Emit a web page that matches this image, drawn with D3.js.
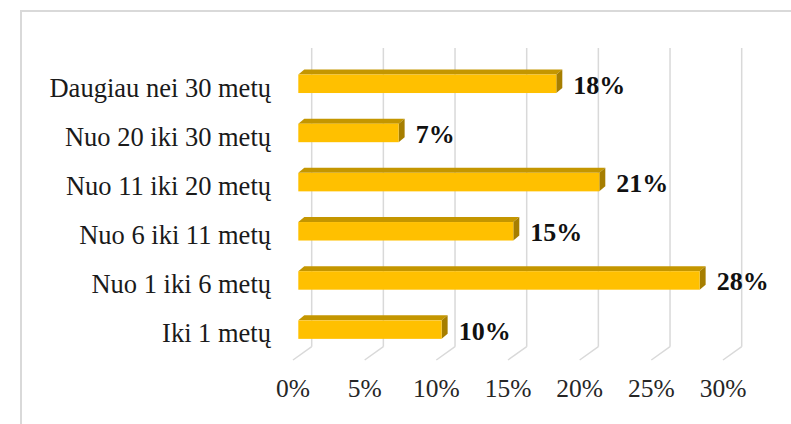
<!DOCTYPE html>
<html>
<head>
<meta charset="utf-8">
<script src="https://cdn.jsdelivr.net/npm/d3@7"></script>
<style>
  html, body { margin: 0; padding: 0; background: #fff; }
  svg { display: block; }
  text { font-family: "Liberation Serif", "Times New Roman", serif; }
</style>
</head>
<body>
<svg id="chart" width="791" height="424"></svg>
<script>
// ---- data ----
const categories = ["Daugiau nei 30 metų", "Nuo 20 iki 30 metų", "Nuo 11 iki 20 metų", "Nuo 6 iki 11 metų", "Nuo 1 iki 6 metų", "Iki 1 metų"];
const values = [18, 7, 21, 15, 28, 10];
const valueLabels = ["18%", "7%", "21%", "15%", "28%", "10%"];
const tickValues = [0, 5, 10, 15, 20, 25, 30];
const tickLabels = ["0%", "5%", "10%", "15%", "20%", "25%", "30%"];

// ---- layout ----
const svg = d3.select("#chart");
const floorY = 360, wallTop = 48;
const depth = { dx: 18.7, dy: -13.3 };       // floor depth offset
const frontOff = { dx: 5.3, dy: -3.8 };      // bar front face offset
const barDepth = { dx: 6, dy: -5 };          // bar depth

const x = d3.scaleLinear().domain([0, 30]).range([293, 723]);
const y = d3.scaleBand().domain(categories).range([63, 358]).paddingInner(0.624).paddingOuter(0.312);
const yc = d3.scaleBand().domain(categories).range([63, 358]); // category rows (front plane)

// outer frame
svg.append("rect").attr("x", 21).attr("y", 11).attr("width", 800).attr("height", 430)
  .attr("fill", "none").attr("stroke", "#d9d9d9").attr("stroke-width", 2);

// gridlines: back wall verticals + floor diagonals
const grid = svg.append("g").attr("stroke", "#d9d9d9").attr("stroke-width", 1.5).attr("fill", "none");
grid.selectAll("line.v").data(tickValues).join("line").attr("class", "v")
  .attr("x1", d => x(d) + depth.dx).attr("x2", d => x(d) + depth.dx)
  .attr("y1", floorY + depth.dy).attr("y2", wallTop);
grid.selectAll("line.f").data(tickValues).join("line").attr("class", "f")
  .attr("x1", d => x(d)).attr("y1", floorY)
  .attr("x2", d => x(d) + depth.dx).attr("y2", floorY + depth.dy);

// bars
const bars = svg.append("g");
const rows = categories.map((c, i) => ({ c, v: values[i], lab: valueLabels[i] }));
const bx0 = d => x(0) + frontOff.dx;
const bx1 = d => x(d.v) + frontOff.dx;
const by0 = d => y(d.c) + frontOff.dy;
const by1 = d => y(d.c) + y.bandwidth() + frontOff.dy;

// top face
bars.selectAll("path.top").data(rows).join("path").attr("class", "top")
  .attr("fill", "#C49600")
  .attr("d", d => `M${bx0(d)},${by0(d)} L${bx0(d) + barDepth.dx},${by0(d) + barDepth.dy} L${bx1(d) + barDepth.dx},${by0(d) + barDepth.dy} L${bx1(d)},${by0(d)} Z`);
// side face
bars.selectAll("path.side").data(rows).join("path").attr("class", "side")
  .attr("fill", "#A67E00")
  .attr("d", d => `M${bx1(d)},${by0(d)} L${bx1(d) + barDepth.dx},${by0(d) + barDepth.dy} L${bx1(d) + barDepth.dx},${by1(d) + barDepth.dy} L${bx1(d)},${by1(d)} Z`);
// front face
bars.selectAll("rect.front").data(rows).join("rect").attr("class", "front")
  .attr("fill", "#FFC000")
  .attr("x", bx0).attr("y", by0)
  .attr("width", d => bx1(d) - bx0(d)).attr("height", y.bandwidth());

// value labels
svg.append("g").selectAll("text").data(rows).join("text")
  .attr("x", d => bx1(d) + 17)
  .attr("y", d => y(d.c) + y.bandwidth() / 2 + frontOff.dy + 10)
  .attr("font-size", 26).attr("font-weight", "bold").attr("fill", "#111")
  .text(d => d.lab);

// category labels
svg.append("g").selectAll("text").data(categories).join("text")
  .attr("x", 271).attr("text-anchor", "end")
  .attr("y", d => yc(d) + yc.bandwidth() / 2 + 9)
  .attr("font-size", 26.5).attr("fill", "#1a1a1a")
  .text(d => d);

// x tick labels
svg.append("g").selectAll("text").data(tickValues).join("text")
  .attr("x", d => x(d)).attr("y", 397).attr("text-anchor", "middle")
  .attr("font-size", 25.5).attr("fill", "#262626")
  .text((d, i) => tickLabels[i]);
</script>
</body>
</html>
